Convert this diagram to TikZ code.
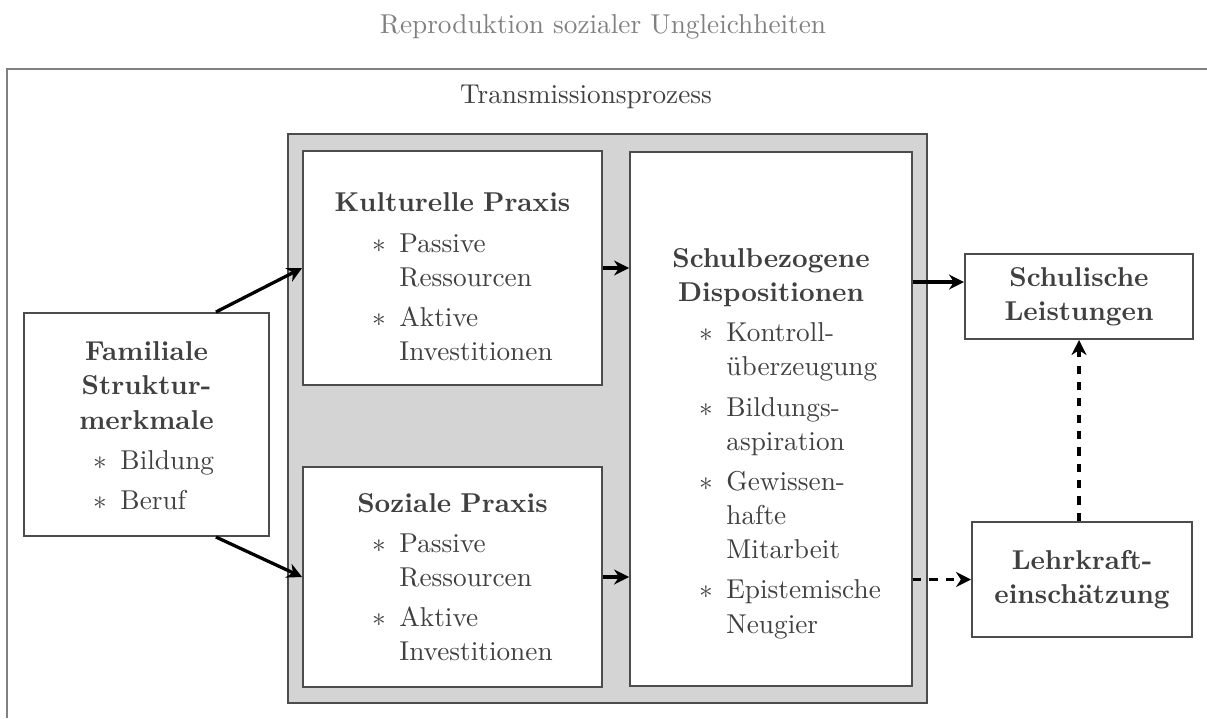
\documentclass[tikz,border=0pt]{standalone}
\usepackage{amsmath}
\usepackage{amssymb}
\usetikzlibrary{calc,arrows.meta}

\definecolor{rahmen}{gray}{0.5}
\definecolor{kasten}{gray}{0.3}
\definecolor{schrift}{gray}{0.25}
\definecolor{grau}{gray}{0.83}

\linespread{1.04}
\newcommand{\kopf}[1]{{\noindent\centering\textbf{#1}\par}}
\newcommand{\punkt}[1]{\par\vspace{2.3pt}\noindent\hangindent=32pt\hangafter=1\hspace*{22pt}\makebox[10pt][l]{$\ast$}#1\par}

\begin{document}
\begin{tikzpicture}[x=0.3667pt,y=-0.3667pt,line width=0.7pt,
  box/.style={draw=kasten,fill=white,text=schrift,align=left,inner sep=3.33pt},
  pfeil/.style={-{Stealth[length=5.5pt,width=5.5pt]},line width=1.2pt,black},
  pfeilgestr/.style={pfeil,dashed}]

  \useasboundingbox (0,0) rectangle (1207,718);

  % Rahmen und Titel
  \draw[rahmen] (7,718) -- (7,69) -- (1207,69);
  \node[text=rahmen] (titel) at (603,27) {Reproduktion sozialer Ungleichheiten};
  \node[text=schrift] (translabel) at (586,97) {Transmissionsprozess};

  \node[draw=kasten,fill=grau,minimum width=234.3pt,minimum height=208.7pt] (trans) at (607.5,418.5) {};

  \node[box,minimum width=89.8pt,minimum height=81.8pt,text width=83.1pt] (fam) at (146.5,424.5)
    {\kopf{\rule{0pt}{8pt}Familiale\\Struktur-\\merkmale}\punkt{Bildung}\punkt{Beruf}};
  \node[box,minimum width=109.6pt,minimum height=85.8pt,text width=102.9pt] (kult) at (452.5,268)
    {\kopf{\rule{0pt}{13.5pt}Kulturelle Praxis}\punkt{Passive\newline Ressourcen}\punkt{Aktive\newline Investitionen}};
  \node[box,minimum width=109.6pt,minimum height=80.7pt,text width=102.9pt] (soz) at (452.5,577)
    {\kopf{Soziale Praxis}\punkt{Passive\newline Ressourcen}\punkt{Aktive\newline Investitionen}};
  \node[box,minimum width=103.4pt,minimum height=195.8pt,text width=96.7pt] (schul) at (771,419)
    {\kopf{\rule{0pt}{25pt}Schulbezogene\\Dispositionen}\punkt{Kontroll-\newline überzeugung}%
     \punkt{Bildungs-\newline aspiration}\punkt{Gewissen-\newline hafte\newline Mitarbeit}%
     \punkt{Epistemische\newline Neugier}};
  \node[box,minimum width=83.6pt,minimum height=31.2pt,text width=77pt,align=center] (leist) at (1079,296.5)
    {\textbf{Schulische}\\\textbf{Leistungen}};
  \node[box,minimum width=80.7pt,minimum height=42.2pt,text width=74pt,align=center] (lehr) at (1082,579.5)
    {\textbf{Lehrkraft-}\\\textbf{einschätzung}};

  % Pfeile
  \coordinate (a1) at ([xshift=-19.8pt]fam.north east);
  \coordinate (a2) at ([xshift=-19.8pt]fam.south east);
  \coordinate (a3) at ([yshift=5.3pt]leist.west);
  \draw[pfeil] (a1) -- (kult.west);
  \draw[pfeil] (a2) -- (soz.west);
  \draw[pfeil] (kult.east) -- (kult.east -| schul.west);
  \draw[pfeil] (soz.east) -- (soz.east -| schul.west);
  \draw[pfeil] (schul.east |- a3) -- (a3);
  \draw[pfeilgestr] (schul.east |- lehr.west) -- (lehr.west);
  \draw[pfeilgestr] (leist.south |- lehr.north) -- (leist.south);

\end{tikzpicture}
\end{document}
